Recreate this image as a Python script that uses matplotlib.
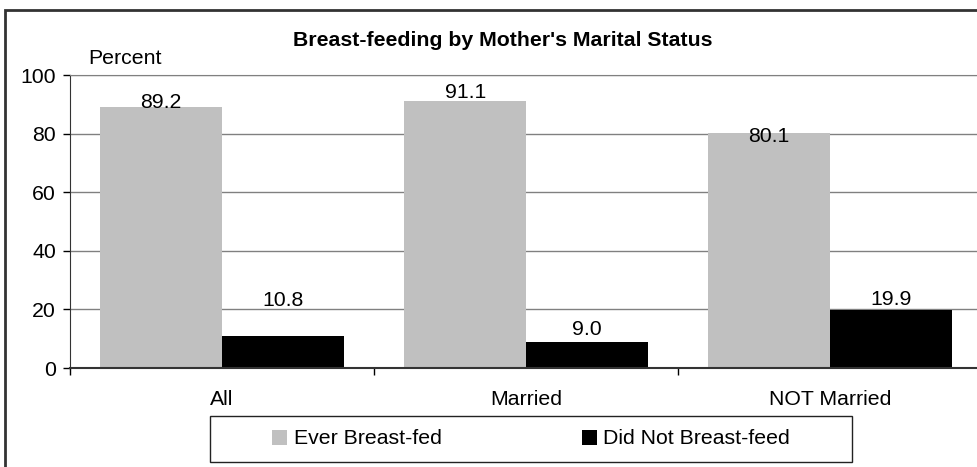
import matplotlib.pyplot as plt
from matplotlib.patches import Rectangle

# Chart data
groups = ["All", "Married", "NOT Married"]
ever_fed = [89.2, 91.1, 80.1]
not_fed = [10.8, 9.0, 19.9]
series_names = ["Ever Breast-fed", "Did Not Breast-feed"]

# label offsets above bar top (points), mimicking the original placement
ever_off = [-1, 2, -6.5]
not_off = [21.5, 5, 3.5]

plt.rcParams["font.family"] = ["Liberation Sans", "DejaVu Sans"]
fs = 15.3

fig = plt.figure(figsize=(9.77, 4.67), dpi=100)
ax = fig.add_axes([70 / 977, 99 / 467, 912 / 977, 293 / 467])

x = list(range(len(groups)))
w = 0.4
b1 = ax.bar([i - 0.2 for i in x], ever_fed, width=w, color="#C0C0C0", label=series_names[0], zorder=2)
b2 = ax.bar([i + 0.2 for i in x], not_fed, width=w, color="#000000", label=series_names[1], zorder=2)

for rect, v, off in zip(b1, ever_fed, ever_off):
    ax.annotate(f"{v:.1f}", (rect.get_x() + rect.get_width() / 2, v), xytext=(0, off),
                textcoords="offset points", ha="center", va="baseline", fontsize=fs, zorder=3)
for rect, v, off in zip(b2, not_fed, not_off):
    ax.annotate(f"{v:.1f}", (rect.get_x() + rect.get_width() / 2, v), xytext=(0, off),
                textcoords="offset points", ha="center", va="baseline", fontsize=fs, zorder=3)

ax.set_xlim(-0.5, 2.5)
ax.set_ylim(0, 100)
ax.set_yticks(range(0, 101, 20))
ax.yaxis.grid(True, color="#808080", lw=1, zorder=0)
ax.tick_params(axis="y", direction="out", length=5, width=1, pad=5, labelsize=fs)

ax.set_xticks([-0.5, 0.5, 1.5, 2.5])
ax.set_xticklabels([])
ax.set_xticks(x, minor=True)
ax.set_xticklabels(groups, minor=True)
ax.tick_params(axis="x", which="major", direction="out", length=5, width=1)
ax.tick_params(axis="x", which="minor", length=0, pad=16, labelsize=fs)

ax.spines["right"].set_visible(False)
ax.spines["top"].set_color("#808080")
ax.spines["left"].set_color("#333333")
ax.spines["bottom"].set_color("#333333")
ax.spines["bottom"].set_linewidth(1.5)

fig.text(503 / 977, 1 - 40 / 467, "Breast-feeding by Mother's Marital Status",
         ha="center", va="center", fontsize=fs, fontweight="bold")
fig.text(88 / 977, 1 - 58 / 467, "Percent", ha="left", va="center", fontsize=fs)

# legend (frame drawn separately)
fig.legend(handles=[b1, b2], loc="center", bbox_to_anchor=(531 / 977, 1 - 439 / 467),
           ncol=2, frameon=False, fontsize=fs, handlelength=0.7, handleheight=0.7,
           handletextpad=0.3, columnspacing=6.6)
fig.add_artist(Rectangle((210 / 977, 5 / 467), 642 / 977, 46 / 467, transform=fig.transFigure,
                         fill=False, edgecolor="#222222", lw=1))

# outer chart frame, clipped by the image edges
fig.add_artist(Rectangle((5 / 977, -0.1), 1.2, 1 - 10 / 467 + 0.1, transform=fig.transFigure,
                         fill=False, edgecolor="#333333", lw=2, clip_on=False))

fig.savefig("out.png", dpi=100)
